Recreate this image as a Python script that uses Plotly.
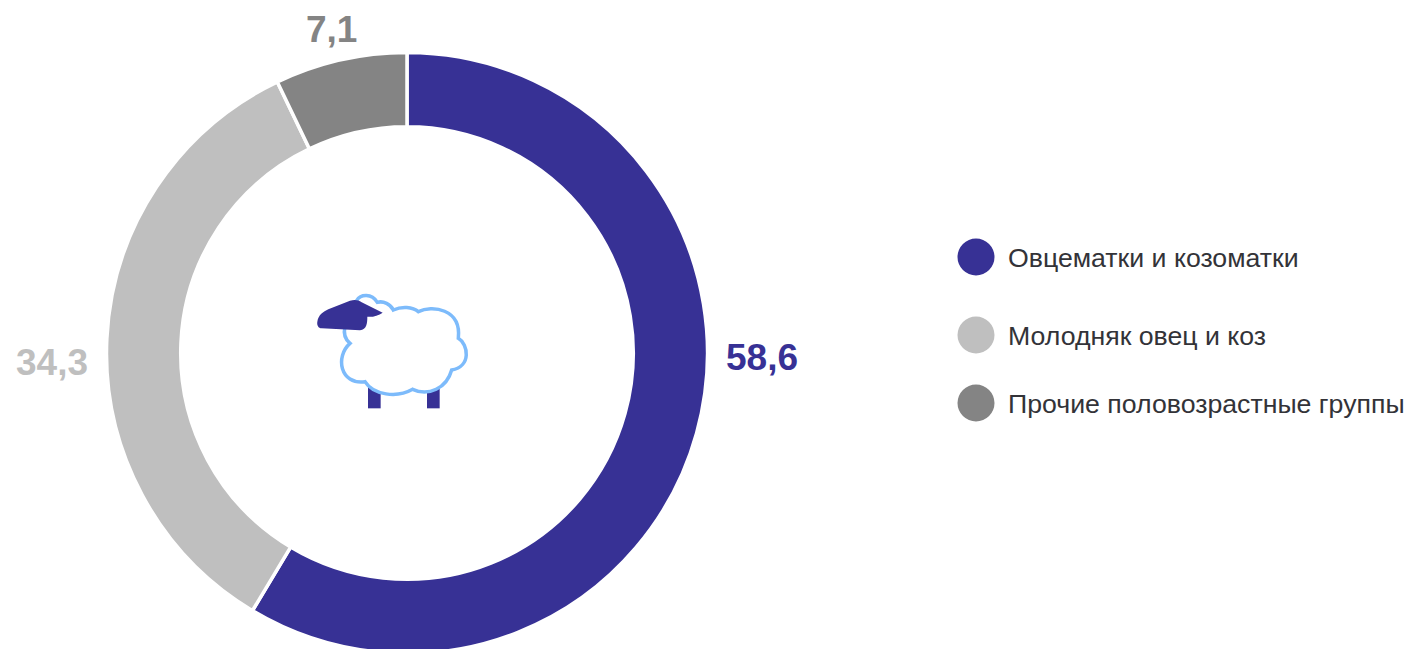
import plotly.graph_objects as go

categories = ["Овцематки и козоматки", "Молодняк овец и коз", "Прочие половозрастные группы"]
values = [58.6, 34.3, 7.1]
value_labels = ["58,6", "34,3", "7,1"]
colors = ["#373195", "#BFBFBF", "#848484"]

W, H = 1406, 660
label_pos = [(762, 357), (52, 362), (331, 29)]
legend_y = [257, 335, 403]


def px(x):
    return x / W


def py(y):
    return 1 - y / H


def z(x, y):
    # sheep icon drawn from its 3x crop coordinates
    return f"{px(290 + x / 3):.5f},{py(270 + y / 3):.5f}"


def path(cmds):
    out = []
    for c, pts in cmds:
        out.append(c + " ".join(z(*p) for p in pts))
    return " ".join(out) + " Z"


fig = go.Figure(
    go.Pie(
        labels=categories,
        values=values,
        hole=0.753,
        sort=False,
        direction="clockwise",
        rotation=0,
        marker=dict(colors=colors, line=dict(color="#FFFFFF", width=3.5)),
        textinfo="none",
        showlegend=False,
        domain=dict(x=[px(106.5), px(707.5)], y=[py(653.5), py(52.5)]),
    )
)

shapes = []
for lx, ly0, ly1 in [(234, 345, 415), (411, 345, 415)]:
    shapes.append(dict(type="path", xref="paper", yref="paper",
                       path=path([("M", [(lx, ly0)]), ("L", [(lx + 38, ly0)]), ("L", [(lx + 38, ly1)]), ("L", [(lx, ly1)])]),
                       fillcolor="#373195", line=dict(width=0)))

body = [
    ("M", [(200, 92)]),
    ("C", [(212, 72), (245, 70), (262, 97)]),
    ("C", [(280, 92), (302, 102), (310, 120)]),
    ("C", [(335, 108), (368, 110), (385, 125)]),
    ("C", [(425, 105), (515, 115), (505, 205)]),
    ("C", [(535, 222), (545, 290), (485, 300)]),
    ("C", [(470, 355), (415, 380), (368, 358)]),
    ("C", [(320, 385), (250, 375), (225, 335)]),
    ("C", [(150, 345), (135, 260), (180, 220)]),
    ("C", [(162, 205), (160, 190), (165, 170)]),
]
shapes.append(dict(type="path", xref="paper", yref="paper", path=path(body),
                   fillcolor="#FFFFFF", line=dict(color="#7DBBFB", width=3.5)))

head = [
    ("M", [(82, 155)]),
    ("C", [(85, 135), (100, 125), (115, 118)]),
    ("L", [(180, 92)]),
    ("C", [(195, 88), (205, 90), (215, 97)]),
    ("L", [(278, 128)]),
    ("C", [(265, 138), (245, 142), (232, 140)]),
    ("C", [(232, 160), (230, 178), (210, 181)]),
    ("L", [(95, 175)]),
    ("C", [(85, 175), (80, 165), (82, 155)]),
]
shapes.append(dict(type="path", xref="paper", yref="paper", path=path(head),
                   fillcolor="#373195", line=dict(width=0)))

for col, y in zip(colors, legend_y):
    shapes.append(dict(type="circle", xref="paper", yref="paper",
                       x0=px(976 - 18.5), x1=px(976 + 18.5), y0=py(y + 18.5), y1=py(y - 18.5),
                       fillcolor=col, line=dict(width=0)))

annotations = []
for txt, col, (x, y) in zip(value_labels, colors, label_pos):
    annotations.append(dict(text=f"<b>{txt}</b>", x=px(x), y=py(y), xref="paper", yref="paper",
                            xanchor="center", yanchor="middle", showarrow=False,
                            font=dict(family="Liberation Sans", size=37, color=col)))
for cat, y in zip(categories, legend_y):
    annotations.append(dict(text=cat, x=px(1006), y=py(y + 0.5), xref="paper", yref="paper",
                            xanchor="left", yanchor="middle", showarrow=False,
                            font=dict(family="Liberation Sans", size=26.7, color="#333338")))

fig.update_layout(width=W, height=H, margin=dict(l=0, r=0, t=0, b=0),
                  paper_bgcolor="#FFFFFF", shapes=shapes, annotations=annotations)

fig.write_html("out.html", config=dict(displayModeBar=False),
               post_script="document.documentElement.style.overflow='hidden';document.body.style.margin='0';document.body.style.overflow='hidden';")
